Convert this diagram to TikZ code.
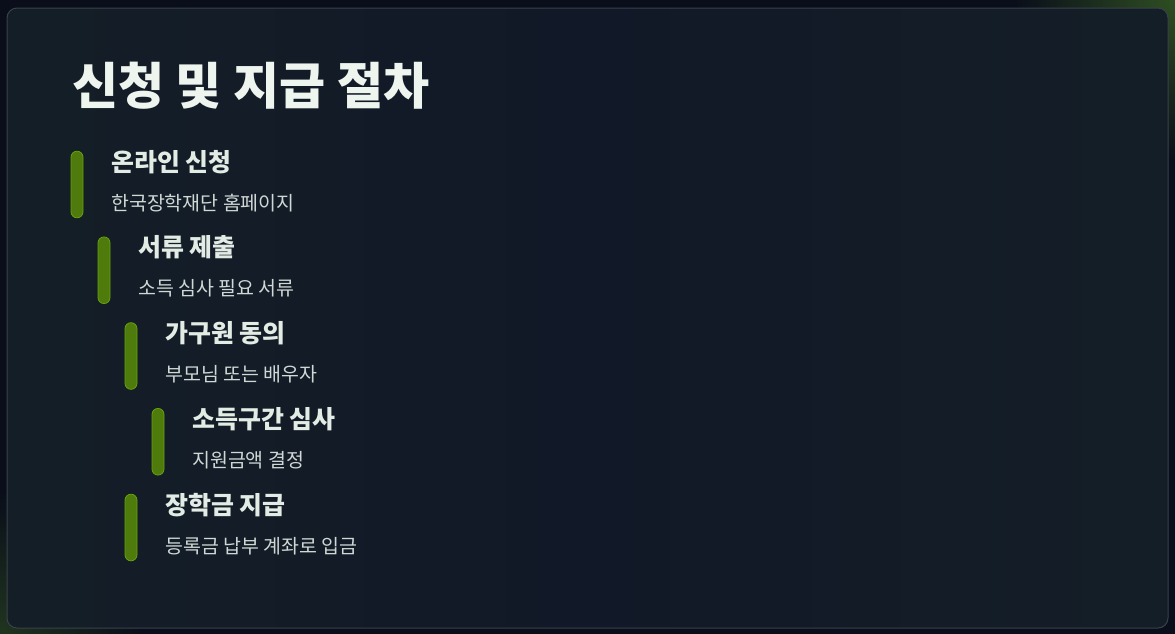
\documentclass[tikz,border=0pt]{standalone}
\usepackage{fontspec}
\usepackage{tikz}
\setmainfont{Noto Sans CJK KR}
\definecolor{pagebg}{HTML}{0A0E1A}
\definecolor{cardbg}{HTML}{111827}
\definecolor{cardedge}{HTML}{3A414C}
\definecolor{glowgreen}{HTML}{2E4E22}
\definecolor{barfill}{HTML}{4F7A0C}
\definecolor{baredge}{HTML}{65A30D}
\definecolor{titlecol}{HTML}{EEF4EE}
\definecolor{headcol}{HTML}{E2ECE4}
\definecolor{subcol}{HTML}{D0D8D6}
\tikzset{
	bar/.style={draw=baredge,fill=barfill,line width=0.6pt,minimum width=9pt,minimum height=50pt,rounded corners=4.5pt,inner sep=0pt},
	stephead/.style={anchor=base west,inner sep=0pt,text=headcol,font=\fontsize{18.7pt}{22pt}\selectfont\bfseries},
	stepsub/.style={anchor=base west,inner sep=0pt,text=subcol,font=\fontsize{14.6pt}{17pt}\selectfont}
}

\begin{document}
\begin{tikzpicture}[x=0.75pt,y=-0.75pt]
			\clip (0,0) rectangle (1175,633);
			\fill[pagebg] (-5,-5) rectangle (1180,640);
			\fill[inner color=glowgreen,outer color=pagebg] (1175,0) circle (160);
			\fill[inner color=glowgreen!60!pagebg,outer color=pagebg] (0,633) circle (140);
			% card
			\shade[left color=cardbg!88!glowgreen,right color=cardbg!88!glowgreen,middle color=cardbg,rounded corners=7.5pt] (7,8) rectangle (1168,628);
			\draw[cardedge,line width=0.75pt,rounded corners=7.5pt] (7,8) rectangle (1168,628);
			\node[anchor=base west,inner sep=0pt,text=titlecol,font=\fontsize{37.6pt}{44pt}\selectfont\bfseries] (title) at (72,104) {신청 및 지급 절차};
			% steps
			\node[bar] (bar1) at (77,184.5) {};
			\node[stephead] (head1) at (111,171) {온라인 신청};
			\node[stepsub] (sub1) at (111,210) {한국장학재단 홈페이지};
			\node[bar] (bar2) at (104,270.25) {};
			\node[stephead] (head2) at (138,256.75) {서류 제출};
			\node[stepsub] (sub2) at (138,295.75) {소득 심사 필요 서류};
			\node[bar] (bar3) at (131,356) {};
			\node[stephead] (head3) at (165,342.5) {가구원 동의};
			\node[stepsub] (sub3) at (165,381.5) {부모님 또는 배우자};
			\node[bar] (bar4) at (158,441.75) {};
			\node[stephead] (head4) at (192,428.25) {소득구간 심사};
			\node[stepsub] (sub4) at (192,467.25) {지원금액 결정};
			\node[bar] (bar5) at (131,527.5) {};
			\node[stephead] (head5) at (165,514) {장학금 지급};
			\node[stepsub] (sub5) at (165,553) {등록금 납부 계좌로 입금};
		\end{tikzpicture}
\end{document}
